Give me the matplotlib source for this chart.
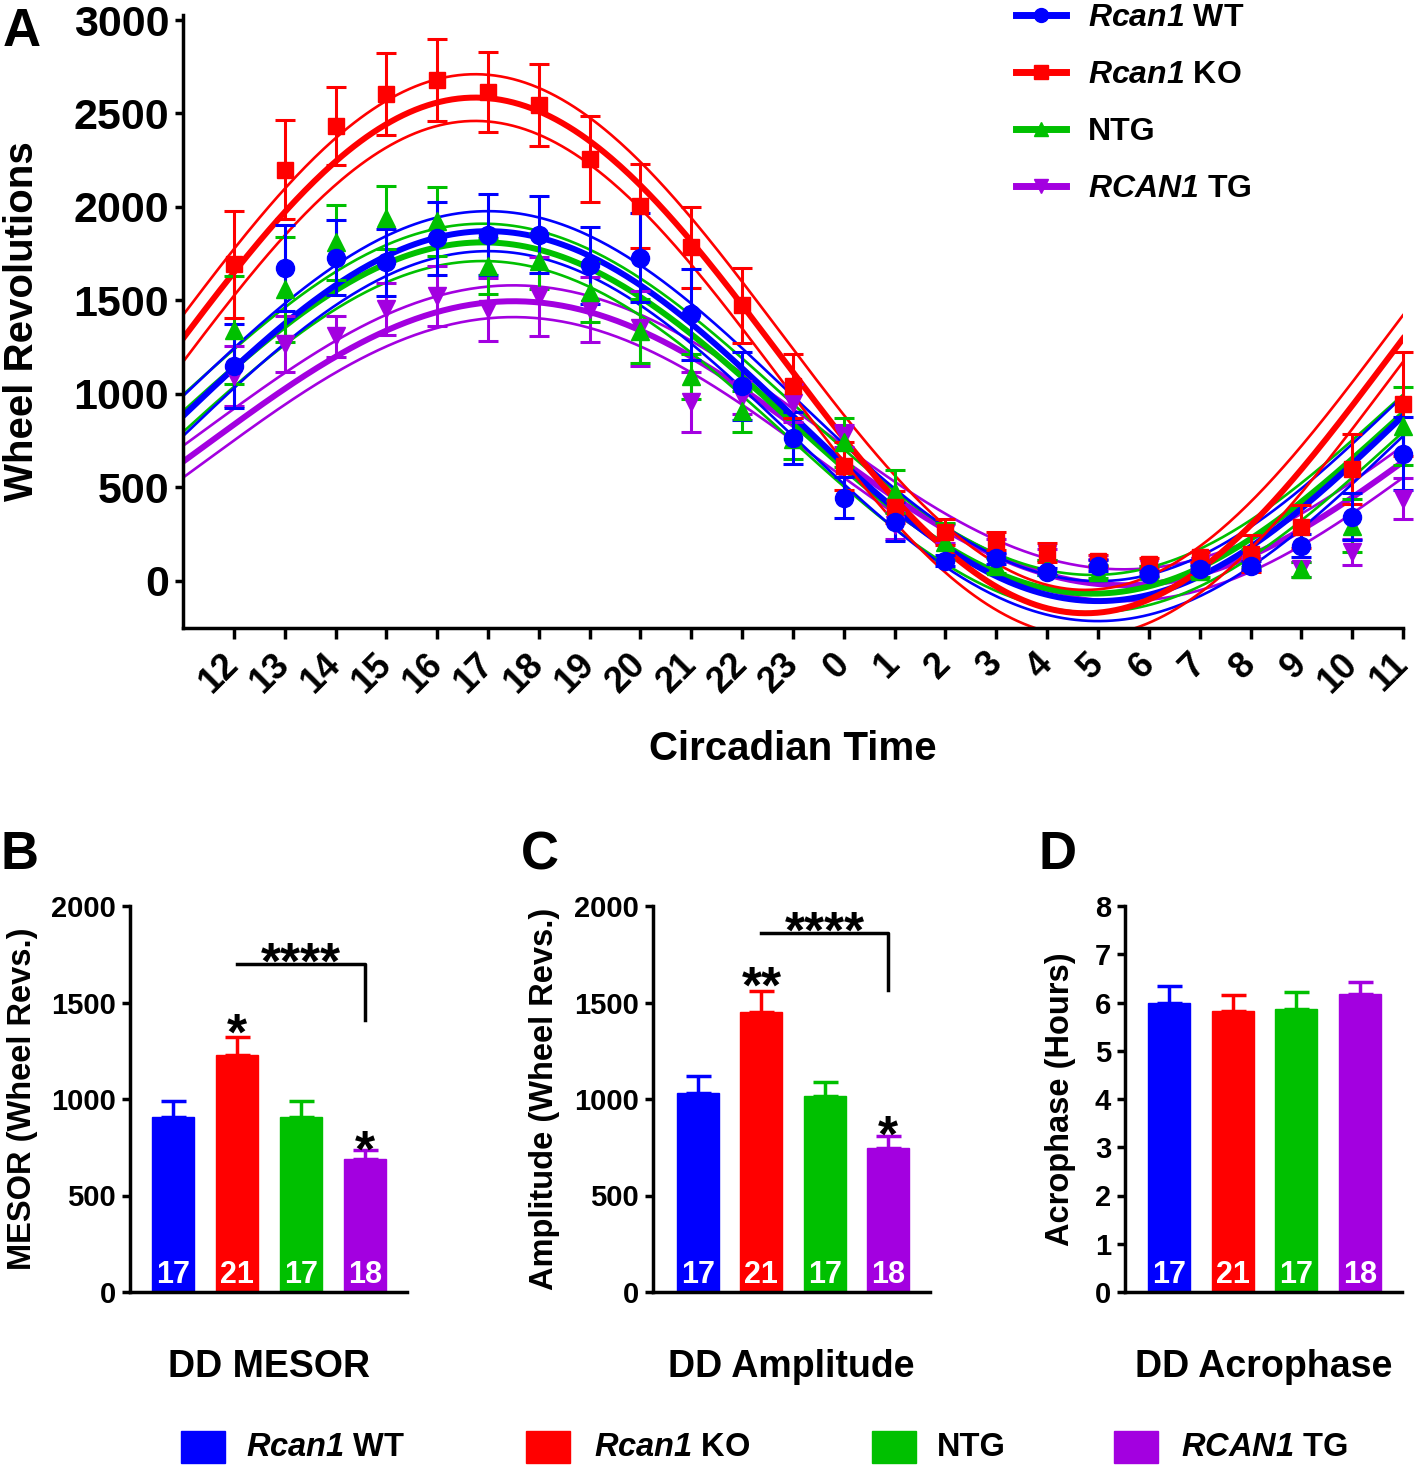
import numpy as np
import matplotlib
matplotlib.use('Agg')
import matplotlib.pyplot as plt
from matplotlib.lines import Line2D
from matplotlib.patches import Rectangle

plt.rcParams['font.family'] = ['Liberation Sans', 'DejaVu Sans']
plt.rcParams['font.weight'] = 'bold'
plt.rcParams['axes.labelweight'] = 'bold'
plt.rcParams['mathtext.fontset'] = 'custom'
# gene names are set in bold italic, digits included
plt.rcParams['mathtext.it'] = 'Liberation Sans:italic:bold'
plt.rcParams['mathtext.rm'] = 'Liberation Sans:italic:bold'
plt.rcParams['mathtext.bf'] = 'Liberation Sans:bold'
plt.rcParams['axes.linewidth'] = 2.5

groups = [r'$\it{Rcan1}$ WT', r'$\it{Rcan1}$ KO', 'NTG', r'$\it{RCAN1}$ TG']
colors = ['#0000FF', '#FF0000', '#00C000', '#A300E0']
markers = ['o', 's', '^', 'v']
marker_sizes = [13, 11, 13, 13]

# circadian time of each point (CT12 ... CT23, CT0 ... CT11)
ct_hours = [12, 13, 14, 15, 16, 17, 18, 19, 20, 21, 22, 23,
            0, 1, 2, 3, 4, 5, 6, 7, 8, 9, 10, 11]

wt_mean = [1148, 1671, 1729, 1703, 1831, 1852, 1852, 1687, 1729, 1425, 1041, 763,
           443, 315, 107, 118, 48, 80, 37, 64, 80, 187, 342, 678]
wt_sem = [227, 230, 200, 180, 195, 215, 205, 205, 240, 243, 180, 140,
          110, 105, 30, 30, 20, 30, 15, 20, 25, 60, 125, 195]

ko_mean = [1692, 2199, 2434, 2605, 2680, 2616, 2546, 2258, 2007, 1783, 1473, 1041,
           614, 395, 262, 214, 150, 107, 91, 128, 144, 288, 598, 945]
ko_sem = [285, 265, 210, 220, 220, 215, 220, 230, 225, 215, 200, 170,
          128, 85, 70, 48, 50, 30, 30, 27, 100, 115, 187, 280]

ntg_mean = [1340, 1559, 1810, 1943, 1922, 1682, 1708, 1543, 1335, 1094, 907, 760,
            740, 475, 208, 80, 70, 48, 50, 50, 120, 60, 294, 828]
ntg_sem = [290, 280, 200, 170, 185, 150, 150, 160, 170, 120, 110, 110,
           130, 115, 100, 40, 40, 35, 30, 30, 50, 40, 140, 210]

tg_mean = [1094, 1265, 1308, 1452, 1521, 1452, 1521, 1452, 1350, 955, 980, 950,
           774, 295, 250, 180, 140, 90, 60, 80, 90, 60, 155, 438]
tg_sem = [160, 150, 110, 140, 160, 170, 210, 175, 200, 160, 90, 100,
          60, 70, 50, 40, 30, 25, 20, 20, 30, 40, 70, 110]

# cosinor fits (mesor, amplitude, peak time in CT, confidence band half width)
fit_mesor = [880, 1205, 870, 735]
fit_amp = [990, 1380, 940, 760]
fit_peak = [17.0, 16.75, 16.9, 17.5]
fit_band = [107, 125, 100, 85]

# per-animal cosinor parameters
n_mice = [17, 21, 17, 18]
mesor_mean = [907, 1228, 907, 689]
mesor_sem = [83, 93, 81, 47]
amp_mean = [1031, 1451, 1016, 746]
amp_sem = [88, 109, 72, 62]
acro_mean = [6.0, 5.83, 5.87, 6.17]
acro_sem = [0.34, 0.32, 0.35, 0.25]

W, H = 1416, 1466
fig = plt.figure(figsize=(W / 100, H / 100), dpi=100)


def px_axes(left, top, right, bottom):
    return fig.add_axes([left / W, 1 - bottom / H, (right - left) / W, (bottom - top) / H])


# ---------------- panel A ----------------
ax = px_axes(183, 15, 1403, 628)
pos = np.array([h if h >= 12 else h + 24 for h in ct_hours])
means = [wt_mean, ko_mean, ntg_mean, tg_mean]
sems = [wt_sem, ko_sem, ntg_sem, tg_sem]

xs = np.linspace(11, 35, 400)
for g in [3, 2, 0, 1]:
    c = np.cos(2 * np.pi * (xs - fit_peak[g]) / 24.0)
    fit = fit_mesor[g] + fit_amp[g] * c
    ax.plot(xs, fit, color=colors[g], lw=4.3, zorder=2)
    ax.plot(xs, fit + fit_band[g], color=colors[g], lw=1.9, zorder=2)
    ax.plot(xs, fit - fit_band[g], color=colors[g], lw=1.9, zorder=2)

for g in [3, 2, 1, 0]:
    ax.errorbar(pos, means[g], yerr=sems[g], fmt=markers[g], color=colors[g],
                ms=marker_sizes[g], elinewidth=2.2, capsize=7, capthick=2.2,
                zorder=3, clip_on=False)

ax.set_xlim(11, 35)
ax.set_ylim(-254, 3027)
ax.set_yticks(np.arange(0, 3001, 500))
ax.set_xticks(pos)
ax.set_xticklabels([str(h) for h in ct_hours], rotation=45, ha='right',
                   va='center', rotation_mode='anchor', fontsize=26)
ax.tick_params(axis='y', labelsize=31, length=6, width=2.5, pad=4)
ax.tick_params(axis='x', length=8, width=2.5, pad=14)
for s in ['top', 'right']:
    ax.spines[s].set_visible(False)
ax.set_xlabel('Circadian Time', fontsize=29, labelpad=22)
ax.set_ylabel('Wheel Revolutions', fontsize=29)
ax.yaxis.set_label_coords((22 - 183) / 1220, 0.5)
ax.yaxis.label.set_va('center')

handles = [Line2D([], [], color=colors[g], marker=markers[g], lw=5, ms=10)
           for g in range(4)]
ax.legend(handles, groups, loc='upper left', bbox_to_anchor=(1016 / W, 1 - 3 / H),
          bbox_transform=fig.transFigure, frameon=False, fontsize=23,
          handlelength=1.56, handletextpad=0.69, labelspacing=0.85,
          borderpad=0, borderaxespad=0)


# ---------------- panels B, C, D ----------------
def bar_panel(left, right, xlo, values, errs, ylim, yticks, ylabel, xlabel, ylab_x):
    a = px_axes(left, 906, right, 1292)
    x = np.arange(4)
    a.bar(x, values, width=0.66, color=colors, edgecolor=colors, zorder=2)
    for i in range(4):
        a.errorbar(x[i], values[i], yerr=[[0], [errs[i]]], fmt='none',
                   ecolor=colors[i], elinewidth=2.5, capsize=9, capthick=2.5, zorder=1)
        a.annotate(str(n_mice[i]), (x[i], 0), xytext=(0, 6.5), textcoords='offset points',
                   ha='center', va='baseline', color='white', fontsize=22, zorder=4)
    a.set_xlim(xlo, 3.66)
    a.set_ylim(*ylim)
    a.set_yticks(yticks)
    a.set_xticks([])
    a.tick_params(axis='y', labelsize=21, length=6, width=2.5, pad=4)
    for s in ['top', 'right']:
        a.spines[s].set_visible(False)
    a.set_xlabel(xlabel, fontsize=27, labelpad=41)
    a.set_ylabel(ylabel, fontsize=23.5)
    a.yaxis.set_label_coords((ylab_x - left) / (right - left), 0.5)
    a.yaxis.label.set_va('center')
    return a


def stars(a, x, y, s, fs=37):
    a.annotate(s, (x, y), xytext=(0, -0.575 * fs), textcoords='offset points',
               ha='center', va='baseline', fontsize=fs)


def bracket(a, y_top, y_drop):
    a.plot([1, 3, 3], [y_top, y_top, y_drop], color='black', lw=2.5, zorder=3)


axB = bar_panel(130, 407, -0.67, mesor_mean, mesor_sem, (0, 2000),
                np.arange(0, 2001, 500), 'MESOR (Wheel Revs.)', 'DD MESOR', 22)
bracket(axB, 1700, 1410)
stars(axB, 2, 1777, '****')
stars(axB, 1, 1409, '*')
stars(axB, 3, 803, '*')

axC = bar_panel(653, 930, -0.71, amp_mean, amp_sem, (0, 2000),
                np.arange(0, 2001, 500), 'Amplitude (Wheel Revs.)', 'DD Amplitude', 544)
bracket(axC, 1860, 1565)
stars(axC, 2, 1937, '****')
stars(axC, 1, 1653, '**')
stars(axC, 3, 880, '*')

axD = bar_panel(1125, 1402, -0.69, acro_mean, acro_sem, (0, 8),
                np.arange(0, 9, 1), 'Acrophase (Hours)', 'DD Acrophase', 1061)

# panel letters
for letter, lx, ly in [('A', 3, 7), ('B', 1, 830), ('C', 521, 830), ('D', 1038, 830)]:
    fig.text(lx / W, 1 - ly / H, letter, fontsize=38, ha='left', va='top')

# bottom legend
sq_left = [181, 526, 872, 1114]
txt_left = [246, 594, 937, 1181]
for g in range(4):
    fig.patches.append(Rectangle((sq_left[g] / W, 1 - 1463 / H), 44 / W, 32 / H,
                                 transform=fig.transFigure, color=colors[g]))
    fig.text(txt_left[g] / W, 1 - 1447 / H, groups[g], fontsize=23.5,
             ha='left', va='center')

fig.savefig('out.png', dpi=100)
